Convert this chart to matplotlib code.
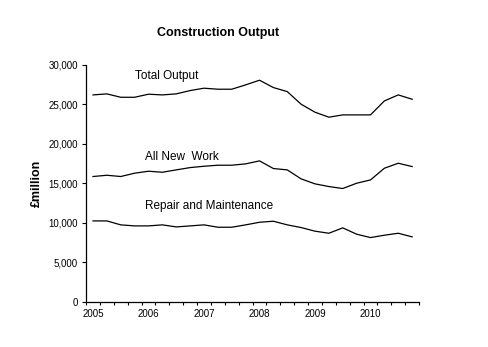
import numpy as np
import matplotlib
matplotlib.use("Agg")
import matplotlib.pyplot as plt

# ==============================
# DATA (quarterly, £million)
# ==============================
quarters = [f"{y} Q{q}" for y in range(2005, 2011) for q in range(1, 5)]
year_labels = ["2005", "2006", "2007", "2008", "2009", "2010"]

total_output = [26200, 26330, 25900, 25900, 26290, 26200, 26330, 26750,
                27050, 26920, 26920, 27470, 28060, 27130, 26620, 25020,
                24010, 23380, 23670, 23670, 23670, 25440, 26200, 25650]
all_new_work = [15870, 16030, 15870, 16290, 16540, 16410, 16710, 17000,
                17170, 17300, 17300, 17470, 17850, 16880, 16710, 15570,
                14940, 14600, 14350, 15020, 15440, 16920, 17550, 17130]
repair_maint = [10250, 10250, 9750, 9620, 9620, 9750, 9490, 9620,
                9750, 9450, 9450, 9750, 10080, 10210, 9750, 9410,
                8950, 8690, 9370, 8570, 8140, 8440, 8690, 8230]

series = [
    ("Total Output", total_output, (3.0, 28600)),
    ("All New  Work", all_new_work, (3.75, 18350)),
    ("Repair and Maintenance", repair_maint, (3.75, 12150)),
]

# ==============================
# PLOT
# ==============================
plt.rcParams["font.family"] = ["Liberation Sans", "DejaVu Sans"]

fig = plt.figure(figsize=(4.89, 3.47), dpi=100)
ax = fig.add_axes([0.176, 0.130, 0.681, 0.683])

x = np.arange(len(quarters))
for name, vals, (tx, ty) in series:
    ax.plot(x, vals, color="black", lw=0.9)
    ax.text(tx, ty, name, fontsize=8.5, ha="left", va="center")

ax.set_xlim(-0.5, len(quarters) - 0.5)
ax.set_ylim(0, 30000)
ax.set_yticks(np.arange(0, 30001, 5000))
ax.set_yticklabels([f"{v:,}" for v in range(0, 30001, 5000)], fontsize=7)

# year labels under first quarter of each year, ticks between quarters
ax.set_xticks(x[::4])
ax.set_xticklabels(year_labels, fontsize=7)
ax.tick_params(axis="x", which="major", length=0, pad=5)
ax.set_xticks(np.arange(-0.5, len(quarters), 1), minor=True)
ax.tick_params(axis="x", which="minor", length=2.5, width=0.8, direction="out")
ax.tick_params(axis="y", length=3, width=0.8, direction="out", pad=3)

for side in ["top", "right"]:
    ax.spines[side].set_visible(False)
for side in ["left", "bottom"]:
    ax.spines[side].set_linewidth(0.9)

ax.set_ylabel("£million", fontsize=9, fontweight="bold", labelpad=4)
fig.text(0.446, 0.905, "Construction Output", fontsize=9, fontweight="bold",
         ha="center", va="center")

fig.savefig("out.png", dpi=100)
